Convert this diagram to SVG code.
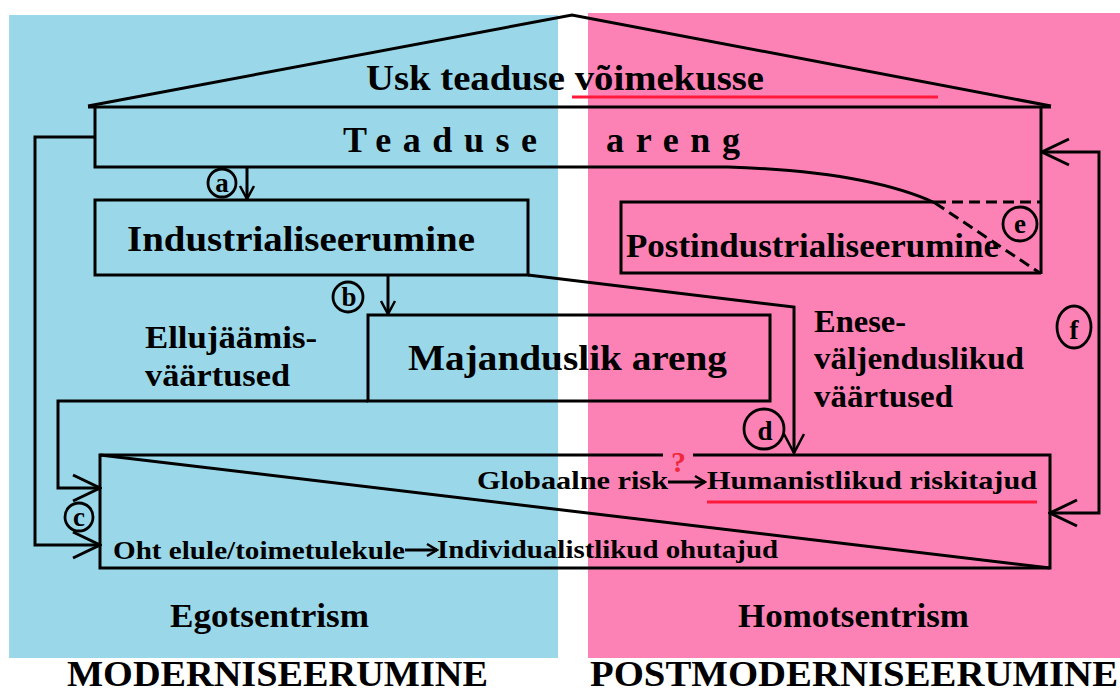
<svg xmlns="http://www.w3.org/2000/svg" width="1120" height="695" viewBox="0 0 1120 695">
<style>
.ln{fill:none;stroke:#000;stroke-width:3;stroke-linejoin:miter}
.ds{fill:none;stroke:#000;stroke-width:3;stroke-dasharray:11 6}
.red{fill:none;stroke:#ff1a3c;stroke-width:3}
.t{font-family:"Liberation Serif","Times New Roman",serif;font-weight:bold;fill:#000}
.cl{fill:none;stroke:#000;stroke-width:2.8}
.lt{font-family:"Liberation Serif","Times New Roman",serif;font-weight:bold;font-size:27px;fill:#000;text-anchor:middle}
</style>
<defs>
<marker id="big" markerUnits="userSpaceOnUse" viewBox="-30 -16 32 32" markerWidth="32" markerHeight="32" refX="0" refY="0" orient="auto-start-reverse">
<path d="M-27,-13 L0,0 L-27,13" fill="none" stroke="#000" stroke-width="3"/>
</marker>
<marker id="med" markerUnits="userSpaceOnUse" viewBox="-22 -12 24 24" markerWidth="24" markerHeight="24" refX="0" refY="0" orient="auto">
<path d="M-19,-10 L0,0 L-19,10" fill="none" stroke="#000" stroke-width="2.5"/>
</marker>
<marker id="sm" markerUnits="userSpaceOnUse" viewBox="-16 -10 18 20" markerWidth="18" markerHeight="20" refX="0" refY="0" orient="auto">
<path d="M-13,-7 L0,0 L-13,7" fill="none" stroke="#000" stroke-width="2.5"/>
</marker>
<marker id="tiny" markerUnits="userSpaceOnUse" viewBox="-12 -8 14 16" markerWidth="14" markerHeight="16" refX="0" refY="0" orient="auto">
<path d="M-10,-6 L0,0 L-10,6" fill="none" stroke="#000" stroke-width="2.5"/>
</marker>
</defs>

<g id="background">
<rect x="9" y="15" width="549" height="643" fill="#9ad8e9"/>
<rect x="588" y="13" width="532" height="645" fill="#fc82b6"/>
</g>

<g id="roof">
<path class="ln" d="M88,106 L572,15 L1051,106"/>
<text class="t" x="366" y="90" font-size="35" textLength="398" lengthAdjust="spacingAndGlyphs">Usk teaduse võimekusse</text>
<line class="red" x1="572" y1="97" x2="938" y2="97"/>
</g>

<g id="teaduse-areng">
<path class="ln" d="M88,107 H1051"/>
<path class="ln" d="M95,107 V167 H728 C820,170 890,182 935,203"/>
<path class="ln" d="M1041,107 V274"/>
<text class="t" x="343" y="152" font-size="36" textLength="194" lengthAdjust="spacing">Teaduse</text>
<text class="t" x="606" y="152" font-size="36" textLength="134" lengthAdjust="spacing">areng</text>
</g>

<g id="industrialiseerumine">
<rect class="ln" x="95" y="200" width="433" height="75"/>
<text class="t" x="127" y="251" font-size="35" textLength="348" lengthAdjust="spacingAndGlyphs">Industrialiseerumine</text>
</g>

<g id="postindustrialiseerumine">
<path class="ln" d="M935,202 H621 V273 H1041"/>
<path class="ds" d="M935,202 H1040"/>
<path class="ds" d="M935,203 L1040,273"/>
<text class="t" x="626" y="257" font-size="33" textLength="373" lengthAdjust="spacingAndGlyphs">Postindustrialiseerumine</text>
</g>

<g id="majanduslik-areng">
<rect class="ln" x="368" y="315" width="402" height="86"/>
<text class="t" x="408" y="370" font-size="35" textLength="319" lengthAdjust="spacingAndGlyphs">Majanduslik areng</text>
</g>

<g id="ellujaamis">
<text class="t" x="145" y="348" font-size="32" textLength="172" lengthAdjust="spacingAndGlyphs">Ellujäämis-</text>
<text class="t" x="145" y="386" font-size="32" textLength="145" lengthAdjust="spacingAndGlyphs">väärtused</text>
</g>

<g id="eneseväljenduslikud">
<text class="t" x="814" y="332" font-size="32" textLength="92" lengthAdjust="spacingAndGlyphs">Enese-</text>
<text class="t" x="814" y="369" font-size="32" textLength="210" lengthAdjust="spacingAndGlyphs">väljenduslikud</text>
<text class="t" x="814" y="407" font-size="32" textLength="139" lengthAdjust="spacingAndGlyphs">väärtused</text>
</g>

<g id="risk-box">
<path class="ln" d="M663,455 H100 V568 H1050 V455 H693"/>
<path class="ln" d="M100,455 L1050,568"/>
<text class="t" x="477" y="489" font-size="26" textLength="191" lengthAdjust="spacingAndGlyphs">Globaalne risk</text>
<text x="671" y="472" font-size="30" font-family="Liberation Serif, serif" font-weight="bold" fill="#f0283c">?</text>
<text class="t" x="707" y="489" font-size="26" textLength="330" lengthAdjust="spacingAndGlyphs">Humanistlikud riskitajud</text>
<line class="red" x1="707" y1="502" x2="1037" y2="502"/>
<text class="t" x="113" y="559" font-size="26" textLength="292" lengthAdjust="spacingAndGlyphs">Oht elule/toimetulekule</text>
<text class="t" x="437" y="558" font-size="26" textLength="341" lengthAdjust="spacingAndGlyphs">Individualistlikud ohutajud</text>
</g>

<g id="connectors">
<path class="ln" d="M247,167 V199" marker-end="url(#sm)"/>
<path class="ln" d="M388,275 V314" marker-end="url(#sm)"/>
<path class="ln" d="M528,275 L794,307 V453" marker-end="url(#med)"/>
<path class="ln" d="M95,137 H35 V545 H100" marker-end="url(#big)"/>
<path class="ln" d="M368,401 H58 V488 H100" marker-end="url(#big)"/>
<path class="ln" d="M1050,513 H1099 V152 H1042" marker-start="url(#big)" marker-end="url(#big)"/>
<path class="ln" d="M668,482 H705" marker-end="url(#tiny)"/>
<path class="ln" d="M405,550 H437" marker-end="url(#tiny)"/>
</g>

<g id="labels">
<ellipse class="cl" cx="222" cy="183" rx="14" ry="14"/>
<text class="lt" x="222" y="192">a</text>
<ellipse class="cl" cx="348" cy="297" rx="15" ry="15"/>
<text class="lt" x="349" y="306">b</text>
<ellipse class="cl" cx="79" cy="517" rx="14" ry="14"/>
<text class="lt" x="79" y="526">c</text>
<ellipse class="cl" cx="764" cy="429" rx="20" ry="20"/>
<text class="lt" x="765" y="440" font-size="32">d</text>
<ellipse class="cl" cx="1020" cy="224" rx="17" ry="17"/>
<text class="lt" x="1020" y="233" font-size="29">e</text>
<ellipse class="cl" cx="1074" cy="327" rx="17" ry="21"/>
<text class="lt" x="1074" y="339" font-size="33">f</text>
</g>

<g id="footer">
<text class="t" x="170" y="627" font-size="33" textLength="199" lengthAdjust="spacingAndGlyphs">Egotsentrism</text>
<text class="t" x="738" y="627" font-size="33" textLength="231" lengthAdjust="spacingAndGlyphs">Homotsentrism</text>
<text class="t" x="67" y="686" font-size="36" textLength="421" lengthAdjust="spacingAndGlyphs">MODERNISEERUMINE</text>
<text class="t" x="590" y="686" font-size="36" textLength="528" lengthAdjust="spacingAndGlyphs">POSTMODERNISEERUMINE</text>
</g>
</svg>
